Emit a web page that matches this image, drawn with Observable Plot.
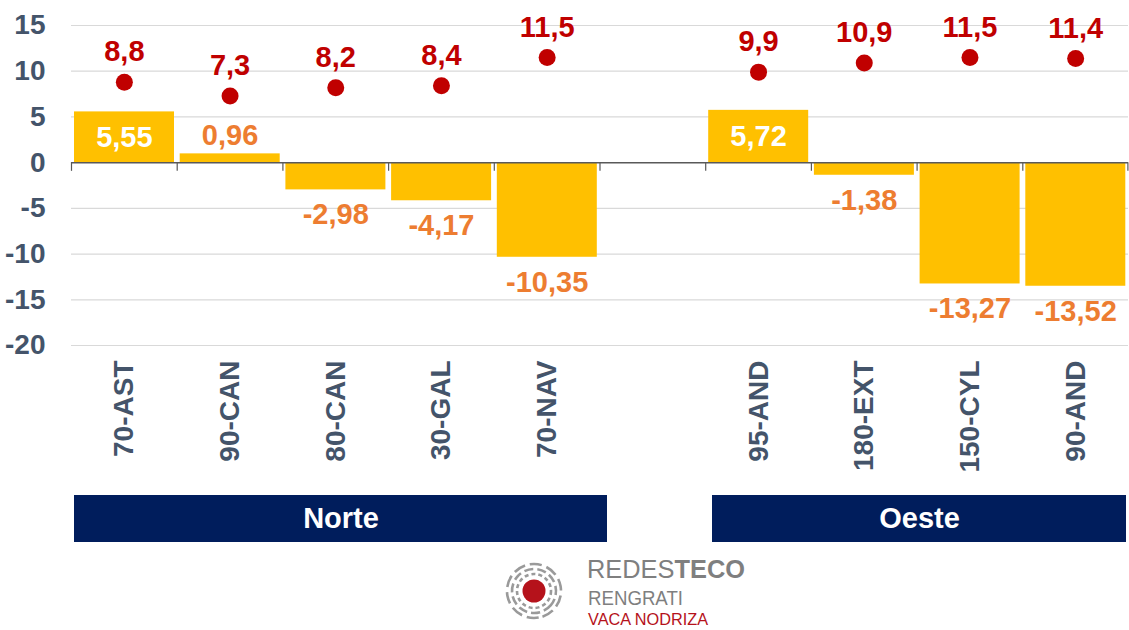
<!DOCTYPE html>
<html>
<head>
<meta charset="utf-8">
<script src="https://cdn.jsdelivr.net/npm/d3@7"></script>
<script src="https://cdn.jsdelivr.net/npm/@observablehq/plot@0.6"></script>
<style>
  html, body { margin: 0; padding: 0; background: #fff; }
  #chart svg { display: block; }
  #logo { position: absolute; left: 0; top: 550px; width: 1129px; height: 80px; }
</style>
</head>
<body>
<div id="chart"></div>
<div id="logo"></div>
<script>
// ---- data ----
const categories = ["70-AST", "90-CAN", "80-CAN", "30-GAL", "70-NAV", "95-AND", "180-EXT", "150-CYL", "90-AND"];
const barValues  = [5.55, 0.96, -2.98, -4.17, -10.35, 5.72, -1.38, -13.27, -13.52];
const dotValues  = [8.8, 7.3, 8.2, 8.4, 11.5, 9.9, 10.9, 11.5, 11.4];
const groupOf    = ["Norte", "Norte", "Norte", "Norte", "Norte", "Oeste", "Oeste", "Oeste", "Oeste"];
const groupNames = ["Norte", "Oeste"];
const yTickValues = [-20, -15, -10, -5, 0, 5, 10, 15];

// ---- build table ----
const GAP = " ";
const xDomain = [...categories.slice(0, 5), GAP, ...categories.slice(5)];
const rows = categories.map((c, i) => ({cat: c, bar: barValues[i], dot: dotValues[i], group: groupOf[i]}));

const W = 1129, H = 550;
const mL = 71, mR = 1, mT = 25, mB = H - 345;
const band = (W - mL - mR) / xDomain.length;

const comma = (v, n) => v.toFixed(n).replace(".", ",");
const inside = rows.filter(d => d.bar > 3);
const aboveP = rows.filter(d => d.bar >= 0 && d.bar <= 3);
const belowN = rows.filter(d => d.bar < 0);

const labelColor = "#44546A";
const font = "'Liberation Sans', Arial, sans-serif";

// group box marks: first / middle / last member with edge insets
const boxInsets = {Norte: [3, -7.5], Oeste: [7, 2]};
const boxY = {y1: -36.4, y2: -41.6};
const boxStyle = {fill: "#001D5C", shapeRendering: "crispEdges"};
const groupMarks = [];
groupNames.forEach(gname => {
  const m = rows.filter(d => d.group === gname);
  const [iL, iR] = boxInsets[gname];
  groupMarks.push(Plot.barY(m.slice(0, 1), {x: "cat", ...boxY, ...boxStyle, insetLeft: iL, insetRight: -0.5}));
  groupMarks.push(Plot.barY(m.slice(1, -1), {x: "cat", ...boxY, ...boxStyle, insetLeft: -0.5, insetRight: -0.5}));
  groupMarks.push(Plot.barY(m.slice(-1), {x: "cat", ...boxY, ...boxStyle, insetLeft: -0.5, insetRight: iR}));
  const cats = m.map(d => d.cat);
  const mid = cats[Math.floor((cats.length - 1) / 2)];
  const off = cats.length % 2 === 0 ? band / 2 : 0;
  groupMarks.push(Plot.text([gname], {x: () => mid, y: -39.0, text: d => d, fill: "#fff", fontSize: 29, fontWeight: "bold", dx: off + (iL - iR) / 2}));
});

const chart = Plot.plot({
  width: W, height: H,
  marginLeft: mL, marginRight: mR, marginTop: mT, marginBottom: mB,
  style: {fontFamily: font, background: "#fff"},
  x: {domain: xDomain, padding: 0, round: false, label: null, axis: null},
  y: {domain: [-20, 15], label: null, axis: null},
  marks: [
    Plot.ruleY(yTickValues.filter(v => v !== 0), {stroke: "#D9D9D9", strokeWidth: 1.2}),
    Plot.axisY(yTickValues, {tickSize: 0, tickPadding: 26, tickFormat: d => String(d), fontSize: 28, fontWeight: "bold", fill: labelColor, label: null}),
    Plot.axisX(categories, {anchor: "bottom", tickSize: 0, tickPadding: 15, tickRotate: -90, fontSize: 28, fontWeight: "bold", fill: labelColor, label: null}),
    Plot.barY(rows, {x: "cat", y: "bar", fill: "#FFC000", insetLeft: 3, insetRight: 2.7}),
    Plot.ruleY([0], {stroke: "#595959", strokeWidth: 1.5}),
    Plot.ruleX(xDomain, {x: d => d, y1: 0, y2: -0.95, dx: -band / 2, stroke: "#595959", strokeWidth: 1.2}),
    Plot.ruleX([xDomain[xDomain.length - 1]], {x: d => d, y1: 0, y2: -0.95, dx: band / 2 - 0.6, stroke: "#595959", strokeWidth: 1.2}),
    Plot.text(inside, {x: "cat", y: d => d.bar / 2, text: d => comma(d.bar, 2), fill: "#fff", fontSize: 29, fontWeight: "bold"}),
    Plot.text(aboveP, {x: "cat", y: "bar", text: d => comma(d.bar, 2), fill: "#ED7D31", fontSize: 29, fontWeight: "bold", dy: -18}),
    Plot.text(belowN, {x: "cat", y: "bar", text: d => comma(d.bar, 2), fill: "#ED7D31", fontSize: 29, fontWeight: "bold", dy: 25}),
    Plot.dot(rows, {x: "cat", y: "dot", r: 8.5, fill: "#C00000", stroke: "none"}),
    Plot.text(rows, {x: "cat", y: "dot", text: d => comma(d.dot, 1), fill: "#C00000", fontSize: 29, fontWeight: "bold", dy: -30}),
    ...groupMarks
  ]
});
document.getElementById("chart").appendChild(chart);

// ---- logo (decoration) ----
const logo = d3.select("#logo").append("svg").attr("width", W).attr("height", 80);
const g = logo.append("g").attr("transform", "translate(534,41)");
[[17, "4 3"], [22, "9 4"], [27, "12 5"]].forEach(([r, da], i) => {
  g.append("circle").attr("r", r).attr("fill", "none").attr("stroke", "#9a9a9a")
    .attr("stroke-width", 2.6).attr("stroke-dasharray", da).attr("transform", `rotate(${i * 40})`);
});
g.append("circle").attr("r", 11.5).attr("fill", "#B5121B");
const lf = "'Liberation Sans', Arial, sans-serif";
const t1 = logo.append("text").attr("x", 587).attr("y", 28).attr("font-family", lf)
  .attr("font-size", 25).attr("fill", "#7f7f7f").attr("textLength", 158).attr("lengthAdjust", "spacingAndGlyphs");
t1.append("tspan").attr("font-weight", 400).text("REDES");
t1.append("tspan").attr("font-weight", 700).text("TECO");
logo.append("text").attr("x", 588).attr("y", 55).attr("font-family", lf)
  .attr("font-size", 21).attr("fill", "#7f7f7f").attr("textLength", 95).attr("lengthAdjust", "spacingAndGlyphs").text("RENGRATI");
logo.append("text").attr("x", 588).attr("y", 75).attr("font-family", lf)
  .attr("font-size", 16).attr("fill", "#B5121B").attr("textLength", 120).attr("lengthAdjust", "spacingAndGlyphs").text("VACA NODRIZA");
</script>
</body>
</html>
